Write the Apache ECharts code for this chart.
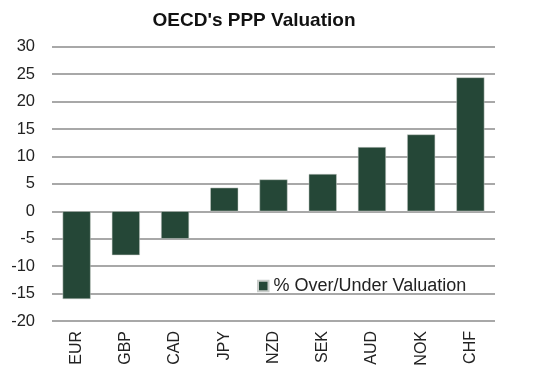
<!DOCTYPE html>
<html><head><meta charset="utf-8">
<script src="https://cdn.jsdelivr.net/npm/echarts@6/dist/echarts.min.js"></script>
<style>html,body{margin:0;padding:0;background:#fff}#c{width:553px;height:377px}</style>
</head><body><div id="c"></div>
<script>
const categories = ['EUR','GBP','CAD','JPY','NZD','SEK','AUD','NOK','CHF'];
const values = [-16.0, -8.0, -5.0, 4.3, 5.8, 6.8, 11.7, 14.0, 24.4];
const seriesName = '% Over/Under Valuation';
const titleText = "OECD's PPP Valuation";
const chart = echarts.init(document.getElementById('c'));
chart.setOption({
  animation: false,
  title: {text: titleText, left: 254, top: 11, textAlign: 'center', padding: 0,
    textStyle: {fontFamily: 'Liberation Sans', fontWeight: 'bold', fontSize: 19, color: '#111'}},
  legend: {left: 257, top: 277, padding: 0, itemWidth: 10.5, itemHeight: 10.5, itemGap: 3,
    textStyle: {fontFamily: 'Liberation Sans', fontSize: 18, color: '#222'},
    data: [{name: seriesName, icon: 'rect'}]},
  grid: {left: 52, right: 58, top: 46.7, bottom: 56},
  xAxis: {type: 'category', data: categories,
    axisLine: {show: false}, axisTick: {show: false},
    axisLabel: {rotate: 90, margin: 10, fontFamily: 'Liberation Sans', fontSize: 16, color: '#222'}},
  yAxis: {type: 'value', min: -20, max: 30, interval: 5,
    axisLine: {show: false}, axisTick: {show: false},
    axisLabel: {margin: 17, fontFamily: 'Liberation Sans', fontSize: 16.5, color: '#222'},
    splitLine: {lineStyle: {color: '#a8a8a8', width: 2}}},
  series: [{name: seriesName, type: 'bar', data: values, barWidth: 28,
    itemStyle: {color: '#254737', borderColor: '#c8ccc9', borderWidth: 0.5}}]
});
</script></body></html>
